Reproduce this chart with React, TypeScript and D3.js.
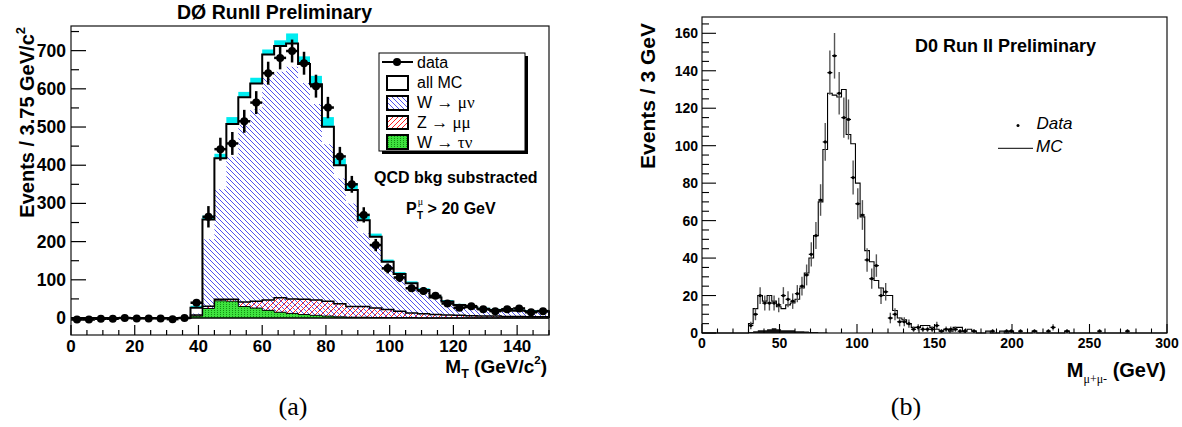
import React from 'react'
import * as d3 from 'd3'

// ---------- panel (a): transverse mass, 40 bins of 3.75 GeV ----------
const mtBinW = 3.75
const mtBins = d3.range(40).map(i => i * mtBinW)
const mtData = [-4, -4, -2, -2, 0, -1, -1, -1, -3, 0, 40, 265, 442, 457, 515, 564, 641, 681, 699, 667,
  607, 551, 423, 350, 270, 191, 130, 106, 78, 71, 58, 38, 27, 31, 23, 18, 23, 25, 15, 18]
const mtDataErr = [3, 3, 3, 3, 3, 3, 3, 3, 3, 3, 8, 28, 30, 30, 30, 30, 30, 30, 30, 30,
  30, 28, 25, 22, 20, 16, 13, 12, 10, 10, 8, 7, 6, 6, 5, 5, 5, 5, 4, 4]
const mtAllMC = [0, 0, 0, 0, 0, 0, 0, 0, 0, 0, 27, 258, 418, 508, 578, 614, 690, 712, 719, 665,
  612, 501, 400, 335, 256, 213, 147, 115, 91, 73, 54, 43, 34, 28, 24, 21, 19, 19, 18, 18]
const mtMCErr = [0, 0, 0, 0, 0, 0, 0, 0, 0, 0, 5, 10, 12, 18, 14, 15, 13, 15, 26, 20,
  22, 25, 18, 18, 12, 8, 6, 5, 5, 5, 4, 4, 3, 3, 3, 3, 3, 3, 3, 3]
const mtWmunu = [0, 0, 0, 0, 0, 0, 0, 0, 0, 0, 12, 206, 337, 422, 505, 546, 629, 645, 658, 615,
  560, 455, 365, 300, 222, 190, 138, 106, 78, 67, 48, 37, 28, 25, 21, 18, 16, 16, 15, 15]
const mtZmumu = [0, 0, 0, 0, 0, 0, 0, 0, 0, 0, 3, 6, 4, 5, 12, 18, 27, 38, 38, 40,
  40, 39, 34, 28, 28, 25, 21, 17, 12, 11, 9, 8, 7, 6, 5, 5, 4, 4, 3, 3]
const mtWtaunu = [0, 0, 0, 0, 0, 0, 0, 0, 0, 0, 5, 25, 45, 44, 30, 26, 20, 15, 12, 9,
  7, 5, 3, 2, 2, 1, 1, 1, 1, 0, 0, 0, 0, 0, 0, 0, 0, 0, 0, 0]
const mtXTicks = [0, 20, 40, 60, 80, 100, 120, 140]
const mtYTicks = [0, 100, 200, 300, 400, 500, 600, 700]
const legendA = ['data', 'all MC', 'W → μν', 'Z → μμ', 'W → τν']

// ---------- panel (b): dimuon mass, 100 bins of 3 GeV ----------
const mmBinW = 3
const mmBins = d3.range(100).map(i => i * mmBinW)
const mmMC = [0, 0, 0, 0, 0, 0, 0, 0, 0, 0,
  5, 13, 20, 17, 20, 17, 14, 13, 15, 16,
  18, 24, 32, 40, 52, 70, 98, 128, 127, 126,
  130, 106, 101, 80, 62, 44, 38, 28, 24, 20,
  20, 12, 8, 7, 5, 3, 3, 4, 4, 3,
  2, 1, 2, 1, 3, 3, 1, 2, 1, 0,
  0, 1, 0, 0, 1, 0, 1, 0, 0, 0,
  0, 1, 0, 0, 0, 0, 0, 0, 1, 0,
  0, 0, 0, 0, 0, 0, 0, 0, 0, 0,
  0, 0, 0, 0, 0, 0, 0, 0, 0, 0]
const mmData = [0, 0, 0, 0, 0, 0, 0, 0, 0, 0,
  4, 10, 20, 16, 16, 16, 15, 20, 18, 17,
  21, 25, 31, 42, 52, 71, 102, 139, 148, 128,
  115, 114, 83, 69, 63, 39, 29, 36, 20, 22,
  8, 10, 6, 6, 5, 2, 3, 2, 2, 2,
  4, 1, 2, 2, 2, 1, 1, 0, 1, 0,
  0, 0, 1, 0, 0, 1, 1, 0, 1, 0,
  0, 1, 0, 0, 1, 3, 0, 0, 1, 0,
  0, 0, 0, 0, 0, 1, 0, 0, 0, 0,
  0, 1, 0, 0, 0, 0, 0, 0, 0, 0]
const mmBkg = [0, 0, 0, 0, 0, 0, 0, 0, 0, 0,
  0.5, 1, 1.5, 1.5, 2, 2.5, 2, 1.5, 1.5, 1.5,
  1, 1, 0.8, 0.5, 0.5, 0.3, 0.3]
const mmXTicks = [0, 50, 100, 150, 200, 250, 300]
const mmYTicks = [0, 20, 40, 60, 80, 100, 120, 140, 160]

const sans = 'Liberation Sans, Arial, Helvetica, sans-serif'
const serif = 'Liberation Serif, Times New Roman, serif'

type Sc = d3.ScaleLinear<number, number>

function stepLine(bins: number[], vals: number[], w: number, x: Sc, y: Sc) {
  let d = `M${x(bins[0])},${y(0)}`
  vals.forEach((v, i) => { d += `V${y(v)}H${x(bins[i] + w)}` })
  return d + `V${y(0)}`
}

function stepBand(bins: number[], lo: number[], hi: number[], w: number, x: Sc, y: Sc) {
  let d = ''
  hi.forEach((v, i) => { d += `${i ? 'L' : 'M'}${x(bins[i])},${y(v)}L${x(bins[i] + w)},${y(v)}` })
  for (let i = lo.length - 1; i >= 0; i--) d += `L${x(bins[i] + w)},${y(lo[i])}L${x(bins[i])},${y(lo[i])}`
  return d + 'Z'
}

function PanelA() {
  const x = d3.scaleLinear().domain([0, 150]).range([71, 549])
  const y = d3.scaleLinear().domain([-44.5, 764.5]).range([335, 26])
  const bkgTop = mtZmumu.map((z, i) => z + mtWtaunu[i])
  const zero = mtBins.map(() => 0)
  const [x0, x1] = x.range()
  const [yb, yt] = y.range()
  const lx = 379, ly = 53

  return (
    <g fontFamily={sans}>
      {/* MC uncertainty band */}
      {mtBins.map((b, i) => mtMCErr[i] > 0 && (
        <rect key={i} x={x(b)} width={x(b + mtBinW) - x(b)} y={y(mtAllMC[i] + mtMCErr[i])}
          height={y(mtAllMC[i]) - y(mtAllMC[i] + mtMCErr[i])} fill="#00ecf0" />
      ))}
      <path d={stepBand(mtBins, zero, mtWmunu, mtBinW, x, y)} fill="url(#hatchBlue)" />
      <path d={stepBand(mtBins, zero, mtWtaunu, mtBinW, x, y)} fill="url(#dotGreen)" />
      <path d={stepBand(mtBins, mtWtaunu, bkgTop, mtBinW, x, y)} fill="url(#hatchRed)" />
      <path d={stepLine(mtBins, mtWtaunu, mtBinW, x, y)} fill="none" stroke="#000" strokeWidth={1} />
      <path d={stepLine(mtBins, bkgTop, mtBinW, x, y)} fill="none" stroke="#000" strokeWidth={1.5} />
      <path d={stepLine(mtBins, mtAllMC, mtBinW, x, y)} fill="none" stroke="#000" strokeWidth={2} />
      <line x1={x0} x2={x1} y1={y(0)} y2={y(0)} stroke="#000" strokeWidth={1.5} />

      {/* data */}
      {mtBins.map((b, i) => {
        const cx = x(b + mtBinW / 2)
        const half = (x(b + mtBinW) - x(b)) / 2
        return (
          <g key={i}>
            <line x1={cx} x2={cx} y1={y(mtData[i] - mtDataErr[i])} y2={y(mtData[i] + mtDataErr[i])} stroke="#000" strokeWidth={2.5} />
            <line x1={cx - half} x2={cx + half} y1={y(mtData[i])} y2={y(mtData[i])} stroke="#000" strokeWidth={2.5} />
            <circle cx={cx} cy={y(mtData[i])} r={4} fill="#000" />
          </g>
        )
      })}

      {/* frame and ticks */}
      <rect x={x0} y={yt} width={x1 - x0} height={yb - yt} fill="none" stroke="#111" strokeWidth={1.2} />
      {d3.range(0, 150.1, 5).map(v => (
        <line key={v} x1={x(v)} x2={x(v)} y1={yb} y2={yb - (v % 20 === 0 ? 10 : 5)} stroke="#000" strokeWidth={1.2} />
      ))}
      {d3.range(0, 764, 50).map(v => (
        <line key={v} x1={x0} x2={x0 + (v % 100 === 0 ? 15 : 8)} y1={y(v)} y2={y(v)} stroke="#000" strokeWidth={1.2} />
      ))}
      {mtXTicks.map(v => (
        <text key={v} x={x(v)} y={352} textAnchor="middle" fontSize={17} fontWeight="bold">{v}</text>
      ))}
      {mtYTicks.map(v => (
        <text key={v} x={66} y={y(v) + 6} textAnchor="end" fontSize={17.5} fontWeight="bold">{v}</text>
      ))}
      <text x={547} y={373} textAnchor="end" fontSize={19} fontWeight="bold">
        M<tspan fontSize={12.5} dy={5}>T</tspan><tspan dy={-5}> (GeV/c</tspan><tspan fontSize={11.5} dy={-9}>2</tspan><tspan dy={9}>)</tspan>
      </text>
      <text transform="translate(34,27) rotate(-90)" textAnchor="end" fontSize={20} fontWeight="bold">
        Events / 3.75 GeV/c<tspan fontSize={13} dy={-9}>2</tspan>
      </text>
      <text x={274.5} y={18.5} textAnchor="middle" fontSize={19.5} fontWeight="bold">DØ RunII Preliminary</text>

      {/* legend */}
      <rect x={lx + 3} y={ly + 3} width={146} height={98} fill="#000" />
      <rect x={lx} y={ly} width={146} height={98} fill="#fff" stroke="#000" strokeWidth={1} />
      <line x1={lx + 3} x2={lx + 34} y1={ly + 9} y2={ly + 9} stroke="#000" strokeWidth={2} />
      <circle cx={lx + 18} cy={ly + 9} r={4} fill="#000" />
      <rect x={lx + 8} y={ly + 23} width={21} height={14} fill="#fff" stroke="#000" strokeWidth={2} />
      <rect x={lx + 8} y={ly + 43} width={21} height={14} fill="url(#hatchBlue)" stroke="#000" strokeWidth={2} />
      <rect x={lx + 8} y={ly + 63} width={21} height={13} fill="url(#hatchRedL)" stroke="#000" strokeWidth={2} />
      <rect x={lx + 8} y={ly + 82} width={21} height={14} fill="url(#dotGreen)" stroke="#000" strokeWidth={2} />
      {legendA.map((t, i) => {
        const [a, ...rest] = t.split(' ')
        return (
          <text key={t} x={lx + 38} y={ly + 15 + i * 20} fontSize={16}>
            {i < 2 ? t : <>{a} <tspan fontFamily={serif} fontSize={17}>{rest.join(' ')}</tspan></>}
          </text>
        )
      })}
      <text x={374} y={183} fontSize={16} fontWeight="bold">QCD bkg substracted</text>
      <text x={406} y={213.5} fontSize={16} fontWeight="bold">
        P<tspan fontSize={10} dx={1} dy={-9} fontFamily={serif} fontWeight="normal">μ</tspan>
        <tspan fontSize={10} dx={-6} dy={14}>T</tspan><tspan dy={-5}> &gt; 20 GeV</tspan>
      </text>
      <text x={293} y={415} textAnchor="middle" fontSize={26} fontFamily={serif}>(a)</text>
    </g>
  )
}

function PanelB() {
  const x = d3.scaleLinear().domain([0, 300]).range([702, 1167])
  const y = d3.scaleLinear().domain([0, 168.7]).range([333, 17])
  const [x0, x1] = x.range()
  const [yb, yt] = y.range()
  const bkgBins = mmBins.slice(0, mmBkg.length)

  return (
    <g fontFamily={sans}>
      <path d={stepBand(bkgBins, bkgBins.map(() => 0), mmBkg, mmBinW, x, y)} fill="#111" />
      <path d={stepLine(mmBins, mmMC, mmBinW, x, y)} fill="none" stroke="#000" strokeWidth={1.1} />
      {mmBins.map((b, i) => {
        const v = mmData[i]
        if (!v) return null
        const cx = x(b + mmBinW / 2)
        const e = Math.sqrt(v)
        return (
          <g key={i}>
            <line x1={cx} x2={cx} y1={y(Math.max(0, v - e))} y2={y(v + e)} stroke="#555" strokeWidth={1.4} />
            <line x1={cx - 2.5} x2={cx + 2.5} y1={y(v)} y2={y(v)} stroke="#000" strokeWidth={1.2} />
            <circle cx={cx} cy={y(v)} r={1.6} fill="#000" />
          </g>
        )
      })}

      <rect x={x0} y={yt} width={x1 - x0} height={yb - yt} fill="none" stroke="#111" strokeWidth={1.2} />
      {d3.range(0, 300.1, 10).map(v => (
        <line key={v} x1={x(v)} x2={x(v)} y1={yb} y2={yb - (v % 50 === 0 ? 9 : 4.5)} stroke="#000" strokeWidth={1.1} />
      ))}
      {d3.range(0, 168, 5).map(v => (
        <line key={v} x1={x0} x2={x0 + (v % 20 === 0 ? 14 : 7)} y1={y(v)} y2={y(v)} stroke="#000" strokeWidth={1.1} />
      ))}
      {mmXTicks.map(v => (
        <text key={v} x={x(v)} y={347.5} textAnchor="middle" fontSize={14} fontWeight="bold">{v}</text>
      ))}
      {mmYTicks.map(v => (
        <text key={v} x={698} y={y(v) + 5} textAnchor="end" fontSize={14} fontWeight="bold">{v}</text>
      ))}
      <text x={1166} y={377} textAnchor="end" fontSize={20} fontWeight="bold">
        M<tspan fontSize={12} fontWeight="normal" fontFamily={serif} dy={6}>μ+μ-</tspan><tspan dy={-6}> (GeV)</tspan>
      </text>
      <text transform="translate(655,23) rotate(-90)" textAnchor="end" fontSize={21} fontWeight="bold">Events / 3 GeV</text>
      <text x={915} y={51.7} fontSize={18} fontWeight="bold">D0 Run II Preliminary</text>

      <circle cx={1018} cy={125.5} r={1.5} fill="#000" />
      <text x={1036.5} y={128.5} fontSize={17} fontStyle="italic">Data</text>
      <line x1={998} x2={1033} y1={148.3} y2={148.3} stroke="#000" strokeWidth={1} />
      <text x={1036} y={152} fontSize={17} fontStyle="italic">MC</text>
      <text x={906} y={415} textAnchor="middle" fontSize={26} fontFamily={serif}>(b)</text>
    </g>
  )
}

export default function App() {
  return (
    <svg width={1182} height={427} style={{ position: 'absolute', left: 0, top: 0, background: '#fff' }}>
      <defs>
        <pattern id="hatchBlue" patternUnits="userSpaceOnUse" width={5} height={5}>
          <rect width={5} height={5} fill="#fff" />
          <path d="M-1,-1L6,6M-1,4L1,6M4,-1L6,1" stroke="#2626e8" strokeWidth={0.8} />
        </pattern>
        <pattern id="hatchRed" patternUnits="userSpaceOnUse" width={6} height={6}>
          <path d="M-1,7L7,-1M-1,1L1,-1M5,7L7,5" stroke="#ff2020" strokeWidth={1} />
        </pattern>
        <pattern id="hatchRedL" patternUnits="userSpaceOnUse" width={5} height={5}>
          <rect width={5} height={5} fill="#fff" />
          <path d="M-1,6L6,-1M-1,1L1,-1M4,6L6,4" stroke="#ff2020" strokeWidth={1} />
        </pattern>
        <pattern id="dotGreen" patternUnits="userSpaceOnUse" width={3} height={2}>
          <rect width={3} height={2} fill="#3ee23e" />
          <rect x={1} width={1} height={1} fill="#139013" />
        </pattern>
      </defs>
      <PanelA />
      <PanelB />
    </svg>
  )
}
